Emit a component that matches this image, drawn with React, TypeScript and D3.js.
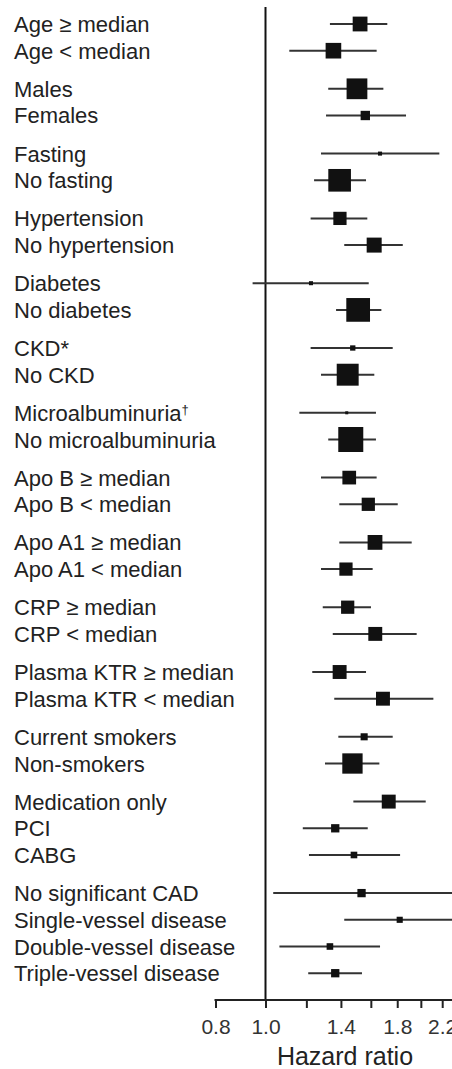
import React, { useEffect, useRef } from 'react';
import * as d3 from 'd3';

const WIDTH = 452;
const HEIGHT = 1069;

const labels = [
  'Age ≥ median', 'Age < median',
  'Males', 'Females',
  'Fasting', 'No fasting',
  'Hypertension', 'No hypertension',
  'Diabetes', 'No diabetes',
  'CKD*', 'No CKD',
  'Microalbuminuria†', 'No microalbuminuria',
  'Apo B ≥ median', 'Apo B < median',
  'Apo A1 ≥ median', 'Apo A1 < median',
  'CRP ≥ median', 'CRP < median',
  'Plasma KTR ≥ median', 'Plasma KTR < median',
  'Current smokers', 'Non-smokers',
  'Medication only', 'PCI', 'CABG',
  'No significant CAD', 'Single-vessel disease', 'Double-vessel disease', 'Triple-vessel disease',
];

// subgroup block each row belongs to
const groups = [0, 0, 1, 1, 2, 2, 3, 3, 4, 4, 5, 5, 6, 6, 7, 7, 8, 8, 9, 9, 10, 10, 11, 11, 12, 12, 12, 13, 13, 13, 13];

const hazard = [
  1.525, 1.354, 1.504, 1.561, 1.667, 1.392, 1.394, 1.624, 1.225, 1.512,
  1.476, 1.443, 1.437, 1.463, 1.453, 1.582, 1.63, 1.432, 1.443, 1.632,
  1.392, 1.689, 1.553, 1.474, 1.733, 1.365, 1.484, 1.535, 1.82, 1.333, 1.365,
];
const lower = [
  1.333, 1.112, 1.323, 1.31, 1.281, 1.242, 1.223, 1.421, 0.944, 1.37,
  1.223, 1.281, 1.163, 1.323, 1.281, 1.39, 1.39, 1.281, 1.291, 1.35,
  1.232, 1.359, 1.384, 1.304, 1.48, 1.181, 1.214, 1.035, 1.421, 1.064, 1.21,
];
const upper = [
  1.722, 1.642, 1.692, 1.872, 2.172, 1.566, 1.575, 1.845, 1.585, 1.677,
  1.764, 1.625, 1.637, 1.637, 1.642, 1.804, 1.92, 1.613, 1.601, 1.963,
  1.566, 2.115, 1.764, 1.662, 2.044, 1.578, 1.823, 2.6, 2.8, 1.667, 1.538,
];
const weight = [
  35, 39, 69, 14, 2.6, 82, 28, 36, 2.6, 90,
  4.5, 77, 1.4, 100, 30, 28, 35, 28, 28, 31,
  31, 31, 8, 66, 31, 11, 7, 11, 6, 7, 11,
];

const tickValues = [0.8, 1.0, 1.2, 1.4, 1.6, 1.8, 2.0, 2.2];
const tickLabels = ['0.8', '1.0', '', '1.4', '', '1.8', '', '2.2'];

const FONT = '"Liberation Sans", Arial, Helvetica, sans-serif';

const App = () => {
  const ref = useRef(null);

  useEffect(() => {
    const svg = d3.select(ref.current);
    svg.selectAll('*').remove();

    const x = d3.scaleLog().domain([0.8, 2.2]).range([215.5, 442.2]);
    const gapRatio = 0.427;
    const slot = (i: number) => i + groups[i] * gapRatio;
    const y = d3
      .scaleLinear()
      .domain([0, slot(labels.length - 1)])
      .range([24, 973.2]);
    const side = d3.scaleSqrt().domain([0, 100]).range([0, 25]);
    const axisY = 1000;

    // reference line at HR = 1
    svg
      .append('line')
      .attr('x1', x(1))
      .attr('x2', x(1))
      .attr('y1', 7)
      .attr('y2', axisY)
      .attr('stroke', '#111')
      .attr('stroke-width', 2);

    // row labels, footnote marks (* and †) set as superscripts
    const text = svg
      .append('g')
      .selectAll('text')
      .data(labels)
      .join('text')
      .attr('x', 14)
      .attr('y', (d, i) => y(slot(i)) + 8)
      .attr('font-family', FONT)
      .attr('font-size', 22)
      .attr('fill', '#222');

    text.each(function (d) {
      const t = d3.select(this);
      const m = d.match(/^(.*?)([*†])$/);
      if (!m) {
        t.text(d);
        return;
      }
      t.append('tspan').text(m[1]);
      if (m[2] === '†') {
        t.append('tspan').attr('font-size', 13).attr('dy', -7).text(m[2]);
      } else {
        t.append('tspan').text(m[2]);
      }
    });

    const rows = svg
      .append('g')
      .selectAll('g')
      .data(hazard)
      .join('g')
      .attr('transform', (d, i) => `translate(0,${y(slot(i))})`);

    rows
      .append('line')
      .attr('x1', (d, i) => x(lower[i]))
      .attr('x2', (d, i) => x(upper[i]))
      .attr('stroke', '#333')
      .attr('stroke-width', 2);

    const size = (i: number) => Math.max(side(weight[i]), 3);
    rows
      .append('rect')
      .attr('x', (d, i) => x(d) - size(i) / 2)
      .attr('y', (d, i) => -size(i) / 2)
      .attr('width', (d, i) => size(i))
      .attr('height', (d, i) => size(i))
      .attr('fill', '#111');

    // x axis
    const axis = d3
      .axisBottom(x)
      .tickValues(tickValues)
      .tickFormat((d, i) => tickLabels[i])
      .tickSize(8)
      .tickSizeOuter(0)
      .tickPadding(11);

    const gx = svg.append('g').attr('transform', `translate(0,${axisY})`).call(axis);
    gx.select('.domain').remove();
    gx.selectAll('.tick line').attr('stroke', '#222').attr('stroke-width', 2);
    gx.selectAll('.tick text')
      .attr('font-family', FONT)
      .attr('font-size', 21)
      .attr('fill', '#333');
    gx.append('line')
      .attr('x1', x(0.8) - 1)
      .attr('x2', WIDTH)
      .attr('stroke', '#222')
      .attr('stroke-width', 2);

    svg
      .append('text')
      .attr('x', 345)
      .attr('y', 1065)
      .attr('text-anchor', 'middle')
      .attr('font-family', FONT)
      .attr('font-size', 25)
      .attr('fill', '#222')
      .text('Hazard ratio');
  }, []);

  return (
    <div>
      <style>{'body{margin:0;}'}</style>
      <svg ref={ref} width={WIDTH} height={HEIGHT} style={{ display: 'block', background: '#fff' }} />
    </div>
  );
};

export default App;
